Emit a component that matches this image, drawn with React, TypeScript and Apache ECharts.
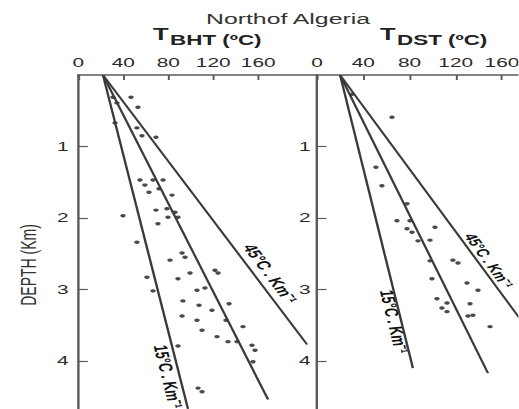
import React, { useEffect, useRef } from 'react';
import * as echarts from 'echarts';

// The reference figure is stretched horizontally; the chart is drawn at its
// natural proportions and then stretched by the same factor.
const STRETCH = 1.6;
const W = 519 / STRETCH;
const H = 409;
const FONT = 'Liberation Sans, Arial, Helvetica, sans-serif';

const titleText = 'Northof Algeria';
const depthTitle = 'DEPTH (Km)';
const panelSymbol = 'T';
const panelSubscripts = ['BHT (ºC)', 'DST (ºC)'];
const tempTicks = [0, 40, 80, 120, 160];
const depthTicks = [1, 2, 3, 4];

// gradient lines: surface temperature and end point [temp, depth]
const bhtSurfaceTemp = 22;
const dstSurfaceTemp = 20;
const bhtLineEnds = [[203.5, 3.77], [168.8, 4.54], [97.6, 4.67]];
const dstLineEnds = [[198, 3.9], [147.9, 4.17], [83, 4.1]];
const gradientLabels = ['45°C . Km⁻¹', '', '15°C . Km⁻¹'];

// measured points [temp °C, depth km]
const bhtPoints = [
  [46.9, 0.31], [53.1, 0.45], [30.9, 0.31], [34.4, 0.39], [32.7, 0.67],
  [52.2, 0.74], [56.7, 0.85], [69.1, 0.87], [54.9, 1.47], [59.3, 1.54],
  [66.5, 1.47], [75.4, 1.47], [62.9, 1.64], [71.8, 1.59], [83.4, 1.68],
  [39.8, 1.97], [69.1, 1.89], [78.9, 1.87], [79.8, 1.99], [86.0, 1.92],
  [88.7, 1.99], [70.9, 2.08], [52.2, 2.34], [92.3, 2.49], [95.0, 2.55],
  [81.6, 2.59], [61.1, 2.83], [88.7, 2.85], [99.4, 2.77], [121.6, 2.73],
  [124.3, 2.77], [66.5, 3.02], [105.6, 3.01], [112.7, 2.98], [93.1, 3.16],
  [107.4, 3.22], [134.1, 3.2], [92.3, 3.37], [118.9, 3.29], [105.6, 3.43],
  [131.4, 3.43], [110.1, 3.57], [123.4, 3.66], [133.2, 3.73], [141.2, 3.73],
  [146.5, 3.52], [88.7, 3.79], [154.5, 3.78], [157.2, 3.85], [155.4, 4.01],
  [106.5, 4.38], [110.1, 4.43],
];
const dstPoints = [
  [30.3, 0.27], [64.9, 0.59], [51.0, 1.29], [56.2, 1.55], [77.9, 1.8],
  [69.2, 2.04], [80.4, 2.04], [77.9, 2.15], [82.2, 2.2], [102.1, 2.13],
  [87.4, 2.32], [97.8, 2.31], [97.8, 2.6], [117.6, 2.59], [122.0, 2.63],
  [99.5, 2.85], [129.8, 2.91], [139.3, 3.01], [103.8, 3.13], [112.5, 3.19],
  [108.1, 3.26], [112.5, 3.31], [132.4, 3.2], [130.6, 3.37], [134.9, 3.36],
  [149.7, 3.52],
];

// where each gradient label sits: depth of its centre and horizontal shift (px)
const bhtLabelDepths = [2.78, 0, 4.22];
const bhtLabelShift = [10.4, 0, -7.4];
const dstLabelDepths = [2.6, 0, 3.45];
const dstLabelShift = [7.2, 0, -4.6];
const dstLabelSizes = [11, 0, 12];

const LINE_COLOR = '#3a3a3a';
const AXIS_COLOR = '#5a5a5a';
const TEXT_COLOR = '#2a2a2a';

function makeXAxis(gridIndex: number, max: number) {
  return {
    type: 'value',
    gridIndex,
    position: 'top',
    min: 0,
    max,
    axisLine: { show: true, onZero: false, lineStyle: { color: AXIS_COLOR, width: 1.5 } },
    axisTick: { show: true, inside: true, length: 5, customValues: tempTicks, lineStyle: { color: AXIS_COLOR, width: 1.2 } },
    axisLabel: { customValues: tempTicks, fontSize: 13, color: TEXT_COLOR, margin: 6, fontFamily: FONT },
    splitLine: { show: false },
  };
}

function makeYAxis(gridIndex: number, margin: number) {
  return {
    type: 'value',
    gridIndex,
    inverse: true,
    min: 0,
    max: 4.7,
    axisLine: { show: true, onZero: false, lineStyle: { color: AXIS_COLOR, width: 1.5 } },
    axisTick: { show: true, inside: true, length: 6, customValues: depthTicks, lineStyle: { color: AXIS_COLOR, width: 1.2 } },
    axisLabel: { customValues: depthTicks, fontSize: 13, color: TEXT_COLOR, margin, fontFamily: FONT },
    splitLine: { show: false },
  };
}

function lineSeries(gridIndex: number, surface: number, end: number[]) {
  return {
    type: 'line',
    xAxisIndex: gridIndex,
    yAxisIndex: gridIndex,
    data: [[surface, 0], end],
    symbol: 'none',
    silent: true,
    lineStyle: { color: LINE_COLOR, width: 1.5 },
  };
}

function pointSeries(gridIndex: number, pts: number[][]) {
  return {
    type: 'scatter',
    xAxisIndex: gridIndex,
    yAxisIndex: gridIndex,
    data: pts,
    symbol: 'circle',
    symbolSize: 3.4,
    silent: true,
    itemStyle: { color: '#1e1e1e' },
  };
}

export default function App() {
  const ref = useRef<HTMLDivElement>(null);

  useEffect(() => {
    if (!ref.current) return;
    const chart = echarts.init(ref.current, undefined, { renderer: 'svg' });

    const series: any[] = [];
    bhtLineEnds.forEach((e) => series.push(lineSeries(0, bhtSurfaceTemp, e)));
    dstLineEnds.forEach((e) => series.push(lineSeries(1, dstSurfaceTemp, e)));
    series.push(pointSeries(0, bhtPoints));
    series.push(pointSeries(1, dstPoints));

    const staticGraphics: any[] = [
      {
        type: 'text', x: 180, y: 18,
        style: { text: titleText, fontSize: 15.5, fontFamily: FONT, fill: '#333', align: 'center', verticalAlign: 'middle' },
      },
      {
        type: 'text', x: 17.5, y: 265, rotation: Math.PI / 2,
        style: { text: depthTitle, fontSize: 14, fontFamily: FONT, fill: '#333', align: 'center', verticalAlign: 'middle' },
      },
    ];
    const titleLefts = [95.6, 237.5];
    panelSubscripts.forEach((sub, i) => {
      staticGraphics.push({
        type: 'text', x: titleLefts[i], y: 35,
        style: { text: panelSymbol, fontSize: 16, fontWeight: 'bold', fontFamily: FONT, fill: '#222', align: 'left', verticalAlign: 'middle' },
      });
      staticGraphics.push({
        type: 'text', x: titleLefts[i] + 10.7, y: 40,
        style: { text: sub, fontSize: 14, fontWeight: 'bold', fontFamily: FONT, fill: '#222', align: 'left', verticalAlign: 'middle' },
      });
    });

    chart.setOption({
      animation: false,
      grid: [
        { left: 48.9, top: 75, width: 149, height: 336, outerBoundsMode: 'none', containLabel: false },
        { left: 198.1, top: 75, width: 144.5, height: 336, outerBoundsMode: 'none', containLabel: false },
      ],
      xAxis: [makeXAxis(0, 212), makeXAxis(1, 200)],
      yAxis: [makeYAxis(0, 6), makeYAxis(1, 4)],
      series,
      graphic: staticGraphics,
    });

    // gradient labels placed along their lines through the axes' scales
    const labelGraphics: any[] = [];
    const addLabels = (gridIndex: number, surface: number, ends: number[][], depths: number[], shifts: number[], sizes: number[]) => {
      ends.forEach((end, i) => {
        const text = gradientLabels[i];
        if (!text) return;
        const finder = { xAxisIndex: gridIndex, yAxisIndex: gridIndex };
        const p0 = chart.convertToPixel(finder, [surface, 0]) as number[];
        const p1 = chart.convertToPixel(finder, end) as number[];
        const d = depths[i];
        const t = surface + (end[0] - surface) * (d / end[1]);
        const p = chart.convertToPixel(finder, [t, d]) as number[];
        const ang = Math.atan2(p1[1] - p0[1], p1[0] - p0[0]);
        labelGraphics.push({
          type: 'text', x: p[0] + shifts[i], y: p[1], rotation: -ang,
          style: { text, fontSize: sizes[i], fontWeight: 'bold', fontFamily: FONT, fill: '#111', align: 'center', verticalAlign: 'middle' },
        });
      });
    };
    addLabels(0, bhtSurfaceTemp, bhtLineEnds, bhtLabelDepths, bhtLabelShift, [12, 0, 12]);
    addLabels(1, dstSurfaceTemp, dstLineEnds, dstLabelDepths, dstLabelShift, dstLabelSizes);
    chart.setOption({ graphic: [...staticGraphics, ...labelGraphics] });

    return () => chart.dispose();
  }, []);

  return (
    <div
      ref={ref}
      style={{
        position: 'absolute', left: 0, top: 0, width: W, height: H,
        transform: `scaleX(${STRETCH})`, transformOrigin: '0 0', background: '#fff',
      }}
    />
  );
}
